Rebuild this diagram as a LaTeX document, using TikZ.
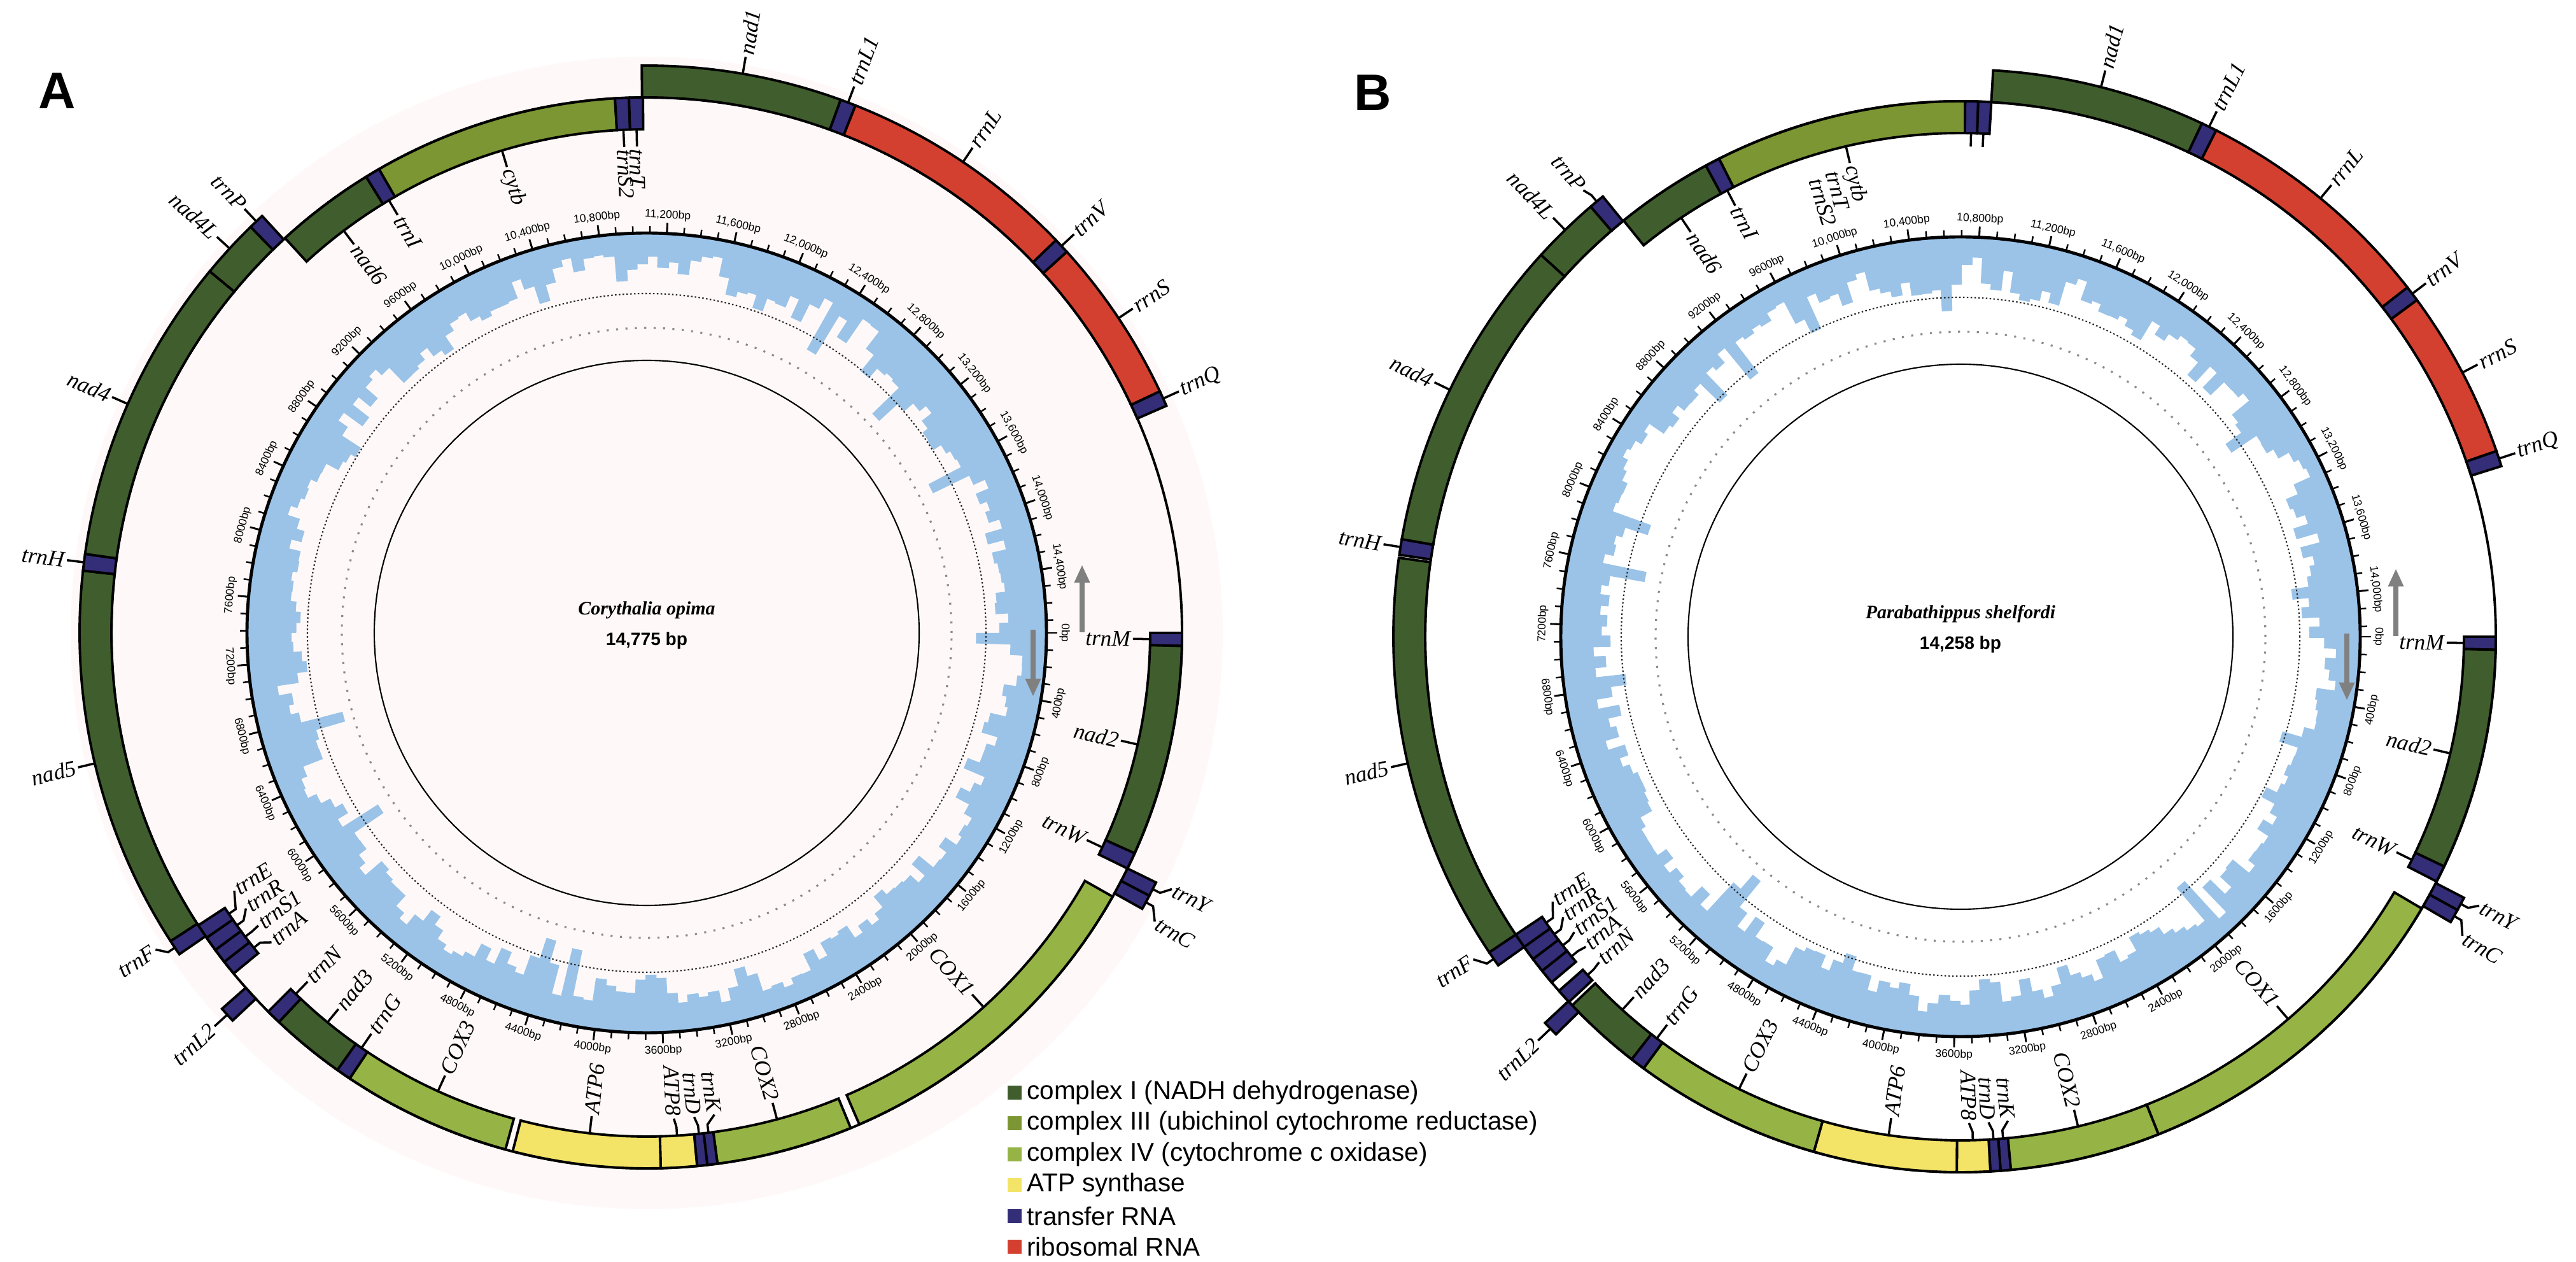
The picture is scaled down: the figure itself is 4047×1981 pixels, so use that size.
\documentclass[tikz,border=0pt]{standalone}
\usepackage{fontspec}
\setmainfont{Liberation Serif}
\setsansfont{Liberation Sans}
\usetikzlibrary{positioning,arrows.meta}

\definecolor{cplxI}{RGB}{64,94,45}
\definecolor{cplxIII}{RGB}{124,150,52}
\definecolor{cplxIV}{RGB}{150,180,70}
\definecolor{atpsyn}{RGB}{243,228,104}
\definecolor{trna}{RGB}{52,45,120}
\definecolor{rrna}{RGB}{212,64,48}
\definecolor{gcblue}{RGB}{155,195,232}
\definecolor{halo}{RGB}{254,249,248}
\definecolor{arrowgray}{RGB}{128,128,128}

\tikzset{
  genebox/.style={draw=black,line width=1.1pt},
  leader/.style={line width=1pt},
  glabel/.style={font=\fontsize{10}{12}\selectfont\itshape,inner sep=1pt},
  bplabel/.style={font=\sffamily\fontsize{5}{6}\selectfont,inner sep=0.5pt},
  legbox/.style={minimum size=0.22cm,inner sep=0pt},
  legtext/.style={font=\sffamily\fontsize{11.5}{13}\selectfont,inner sep=0pt},
  strandarrow/.style={draw=arrowgray,line width=2.3pt,-{Triangle[length=8pt,width=6.5pt]}},
}

% angles in degrees, clockwise from 3 o'clock (0 bp)
\newcommand{\genein}[3]{\filldraw[genebox,fill=#3] (-#1:791) arc[start angle=-#1,end angle=-#2,radius=791] -- (-#2:841) arc[start angle=-#2,end angle=-#1,radius=841] -- cycle;}
\newcommand{\geneout}[3]{\filldraw[genebox,fill=#3] (-#1:841) arc[start angle=-#1,end angle=-#2,radius=841] -- (-#2:891) arc[start angle=-#2,end angle=-#1,radius=891] -- cycle;}

% label of a gene: gene angle, label angle, text
\newcommand{\labout}[3]{%
  \pgfmathsetmacro{\labrot}{cos(#2)>0 ? -#2 : 180-#2}%
  \pgfmathtruncatemacro{\labside}{cos(#2)>0 ? 1 : 0}%
  \ifnum\labside=1 \def\labanc{west}\else\def\labanc{east}\fi
  \node[glabel,rotate=\labrot,anchor=\labanc] (\pfx#3) at (-#2:918) {#3};
  \draw[leader] (-#1:890) -- (-#1:904) -- (\pfx#3.\labanc);}
\newcommand{\labin}[3]{%
  \pgfmathsetmacro{\labrot}{cos(#2)>0 ? -#2 : 180-#2}%
  \pgfmathtruncatemacro{\labside}{cos(#2)>0 ? 1 : 0}%
  \ifnum\labside=1 \def\labanc{east}\else\def\labanc{west}\fi
  \node[glabel,rotate=\labrot,anchor=\labanc] (\pfx#3) at (-#2:764) {#3};
  \draw[leader] (-#1:792) -- (-#1:778) -- (\pfx#3.\labanc);}

% blue content plot: number of bars, seed
\newcommand{\gcplot}[2]{%
  \pgfmathsetseed{#2}\xdef\gcprev{50}%
  \pgfmathsetmacro{\wbar}{360/#1}%
  \foreach \i in {1,...,#1} {
    \pgfmathsetmacro{\barA}{-(\i-1)*\wbar}
    \pgfmathsetmacro{\barB}{-\i*\wbar-0.2}
    \pgfmathsetmacro{\gch}{0.4*\gcprev+0.6*(20+85*rnd)}
    \xdef\gcprev{\gch}
    \pgfmathsetmacro{\gcr}{628-\gch-(rnd>0.94)*45}
    \fill[gcblue] (\barA:628) arc[start angle=\barA,end angle=\barB,radius=628] -- (\barB:\gcr) arc[start angle=\barB,end angle=\barA,radius=\gcr] -- cycle;
  }}

\newcommand{\innerrings}{%
  \draw[line width=0.6pt,black!85,dash pattern=on 0.7pt off 1pt] (0,0) circle[radius=533];
  \draw[line width=0.9pt,black!45,dash pattern=on 0.9pt off 3.3pt] (0,0) circle[radius=479];
  \draw[line width=0.6pt] (0,0) circle[radius=428];}

% bp ruler: genome length, index of last 400 bp label
\newcommand{\bpruler}[2]{%
  \draw[line width=1.4pt] (0,0) circle[radius=628];
  \pgfmathsetmacro{\dstep}{360/(#1/100)}%
  \pgfmathtruncatemacro{\nmin}{#1/100}%
  \foreach \k in {0,...,\nmin} \draw[line width=0.7pt] (-\k*\dstep:628) -- (-\k*\dstep:639);
  \foreach \k in {0,...,#2} {
    \pgfmathsetmacro{\ang}{\k*4*\dstep}
    \pgfmathtruncatemacro{\bp}{\k*400}
    \ifnum\bp<10000 \edef\bptext{\bp bp}\else
      \pgfmathtruncatemacro{\bpk}{\bp/1000}\pgfmathtruncatemacro{\bpr}{\bp-1000*\bpk}
      \ifnum\bpr=0 \edef\bptext{\bpk,000bp}\else\edef\bptext{\bpk,\bpr bp}\fi
    \fi
    \draw[line width=0.8pt] (-\ang:628) -- (-\ang:645);
    \pgfmathtruncatemacro{\topside}{((\ang>180)||(\ang<0.01)) ? 1 : 0}
    \ifnum\topside=1 \node[bplabel,rotate=-\ang-90,anchor=south] (\pfx bp\k) at (-\ang:646) {\bptext};
    \else \node[bplabel,rotate=90-\ang,anchor=north] (\pfx bp\k) at (-\ang:646) {\bptext};\fi
  }}

\begin{document}
\begin{tikzpicture}[x=0.01cm,y=0.01cm]
\fill[white] (0,0) rectangle (4047,1981);
\useasboundingbox (0,0) rectangle (4047,1981);

% ---------------- A
\begin{scope}[shift={(1016,987)}]
\def\pfx{A}
\fill[halo] (0,0) circle[radius=905];
\gcplot{220}{11}
\innerrings
\bpruler{14775}{36}
\draw[line width=1.1pt] (0,0) circle[radius=841];
\genein{0}{1.4}{trna}        % trnM
\genein{1.4}{24.3}{cplxI}    % nad2
\genein{24.3}{26.1}{trna}    % trnW
\geneout{26.1}{27.6}{trna}   % trnY
\geneout{27.6}{29.1}{trna}   % trnC
\genein{29.5}{66.6}{cplxIV}  % COX1
\genein{67.6}{82.4}{cplxIV}  % COX2
\genein{82.4}{83.5}{trna}    % trnK
\genein{83.5}{84.6}{trna}    % trnD
\genein{84.6}{88.5}{atpsyn}  % ATP8
\genein{88.5}{104.5}{atpsyn} % ATP6
\genein{105.3}{123.7}{cplxIV}% COX3
\genein{123.7}{125.3}{trna}  % trnG
\genein{125.3}{133.4}{cplxI} % nad3
\genein{133.4}{135.0}{trna}  % trnN
\geneout{136.9}{138.5}{trna} % trnL2
\genein{140.5}{142.1}{trna}  % trnA
\genein{142.1}{143.7}{trna}  % trnS1
\genein{143.7}{145.3}{trna}  % trnR
\genein{145.3}{146.9}{trna}  % trnE
\geneout{145.5}{147.1}{trna} % trnF
\geneout{147.1}{186.3}{cplxI}% nad5
\geneout{186.3}{188.0}{trna} % trnH
\geneout{188.0}{219.6}{cplxI}% nad4
\geneout{219.6}{225.7}{cplxI}% nad4L
\geneout{225.7}{227.3}{trna} % trnP
\genein{227.5}{238.4}{cplxI} % nad6
\genein{238.4}{240.0}{trna}  % trnI
\genein{240.0}{266.6}{cplxIII}% cytb
\genein{266.6}{268.1}{trna}  % trnS2
\genein{268.1}{269.6}{trna}  % trnT
\geneout{269.5}{290.0}{cplxI}% nad1
\geneout{290.0}{291.6}{trna} % trnL1
\geneout{291.6}{316.2}{rrna} % rrnL
\geneout{316.2}{317.8}{trna} % trnV
\geneout{317.8}{334.8}{rrna} % rrnS
\geneout{334.8}{336.4}{trna} % trnQ
\labin{0.7}{0.7}{trnM}
\labin{12.8}{12.8}{nad2}
\labin{25.2}{25.2}{trnW}
\labout{26.85}{26.0}{trnY}
\labout{28.35}{29.6}{trnC}
\labin{48.0}{48.0}{COX1}
\labin{75.0}{75.0}{COX2}
\labin{82.95}{82.0}{trnK}
\labin{84.05}{84.4}{trnD}
\labin{86.55}{86.8}{ATP8}
\labin{96.5}{96.5}{ATP6}
\labin{114.5}{114.5}{COX3}
\labin{124.5}{124.5}{trnG}
\labin{129.35}{129.35}{nad3}
\labin{134.2}{134.2}{trnN}
\labout{137.7}{137.7}{trnL2}
\labin{141.3}{140.5}{trnA}
\labin{142.9}{143.0}{trnS1}
\labin{144.5}{145.5}{trnR}
\labin{146.1}{148.0}{trnE}
\labout{146.3}{147.2}{trnF}
\labout{166.7}{166.7}{nad5}
\labout{187.15}{187.15}{trnH}
\labout{203.8}{203.8}{nad4}
\labout{222.65}{222.65}{nad4L}
\labout{226.5}{226.5}{trnP}
\labin{233.0}{233.0}{nad6}
\labin{239.2}{239.2}{trnI}
\labin{253.3}{253.3}{cytb}
\labin{267.35}{267.35}{trnS2}
\labin{268.85}{268.85}{trnT}
\labout{279.75}{279.75}{nad1}
\labout{290.8}{290.8}{trnL1}
\labout{303.9}{303.9}{rrnL}
\labout{317.0}{317.0}{trnV}
\labout{326.3}{326.3}{rrnS}
\labout{335.6}{335.6}{trnQ}
\coordinate (Auptail) at (684,1);
\coordinate (Auphead) at (684,107);
\coordinate (Adntail) at (607,5);
\coordinate (Adnhead) at (607,-100);
\draw[strandarrow] (Auptail) -- (Auphead);
\draw[strandarrow] (Adntail) -- (Adnhead);
\node[font=\fontsize{8.5}{10}\selectfont\bfseries\itshape,inner sep=0pt] (Aname) at (0,36) {Corythalia opima};
\node[font=\sffamily\bfseries\fontsize{8}{10}\selectfont,inner sep=0pt,below=0.2cm of Aname] (Asize) {14,775 bp};
\end{scope}

% ---------------- B
\begin{scope}[shift={(3080,981)}]
\def\pfx{B}
\gcplot{220}{5}
\innerrings
\bpruler{14258}{35}
\draw[line width=1.1pt] (0,0) circle[radius=841];
\genein{0}{1.4}{trna}        % trnM
\genein{1.4}{25.4}{cplxI}    % nad2
\genein{25.4}{27.2}{trna}    % trnW
\geneout{27.4}{28.8}{trna}   % trnY
\geneout{28.8}{30.2}{trna}   % trnC
\genein{30.5}{68.3}{cplxIV}  % COX1
\genein{68.3}{84.6}{cplxIV}  % COX2
\genein{84.6}{85.7}{trna}    % trnK
\genein{85.7}{86.8}{trna}    % trnD
\genein{86.8}{90.4}{atpsyn}  % ATP8
\genein{90.4}{105.9}{atpsyn} % ATP6
\genein{105.9}{126.3}{cplxIV}% COX3
\genein{126.3}{127.9}{trna}  % trnG
\genein{127.9}{136.5}{cplxI} % nad3
\genein{137.0}{138.6}{trna}  % trnN
\geneout{135.5}{137.1}{trna} % trnL2
\genein{139.8}{141.4}{trna}  % trnA
\genein{141.4}{143.0}{trna}  % trnS1
\genein{143.0}{144.6}{trna}  % trnR
\genein{144.6}{146.2}{trna}  % trnE
\geneout{144.6}{146.2}{trna} % trnF
\geneout{146.2}{188.0}{cplxI}% nad5
\geneout{188.3}{189.9}{trna} % trnH
\geneout{189.9}{222.3}{cplxI}% nad4
\geneout{222.3}{229.3}{cplxI}% nad4L
\geneout{229.3}{230.9}{trna} % trnP
\genein{231.0}{241.6}{cplxI} % nad6
\genein{241.6}{243.2}{trna}  % trnI
\genein{243.2}{270.5}{cplxIII}% cytb
\genein{270.5}{271.9}{trna}  % trnS2
\genein{271.9}{273.3}{trna}  % trnT
\geneout{273.3}{295.2}{cplxI}% nad1
\geneout{295.2}{296.8}{trna} % trnL1
\geneout{296.8}{322.0}{rrna} % rrnL
\geneout{322.0}{323.6}{trna} % trnV
\geneout{323.6}{340.9}{rrna} % rrnS
\geneout{340.9}{342.5}{trna} % trnQ
\labin{0.7}{0.7}{trnM}
\labin{13.4}{13.4}{nad2}
\labin{26.3}{26.3}{trnW}
\labout{28.1}{27.4}{trnY}
\labout{29.5}{30.8}{trnC}
\labin{49.4}{49.4}{COX1}
\labin{76.5}{76.5}{COX2}
\labin{85.15}{84.4}{trnK}
\labin{86.25}{86.7}{trnD}
\labin{88.6}{89.0}{ATP8}
\labin{98.2}{98.2}{ATP6}
\labin{116.1}{116.1}{COX3}
\labin{127.1}{127.1}{trnG}
\labin{132.2}{132.2}{nad3}
\labin{137.8}{138.0}{trnN}
\labout{136.3}{136.3}{trnL2}
\labin{140.6}{140.4}{trnA}
\labin{142.2}{142.6}{trnS1}
\labin{143.8}{144.8}{trnR}
\labin{145.4}{147.0}{trnE}
\labout{145.4}{146.5}{trnF}
\labout{167.1}{167.1}{nad5}
\labout{189.1}{189.1}{trnH}
\labout{205.8}{205.8}{nad4}
\labout{225.8}{225.8}{nad4L}
\labout{230.1}{229.8}{trnP}
\labin{236.3}{236.3}{nad6}
\labin{242.4}{242.4}{trnI}
\labin{256.85}{256.85}{cytb}
\draw[leader] (-271.2:792) -- (-271.2:770);
\draw[leader] (-272.6:792) -- (-272.6:770);
\node[glabel,rotate=-74.6,anchor=west] (BtrnT) at (-254.6:762) {trnT};
\node[glabel,rotate=-72.4,anchor=west] (BtrnS2) at (-252.4:758) {trnS2};
\labout{284.35}{284.35}{nad1}
\labout{296.0}{296.0}{trnL1}
\labout{309.4}{309.4}{rrnL}
\labout{322.8}{322.8}{trnV}
\labout{332.25}{332.25}{rrnS}
\labout{341.7}{341.7}{trnQ}
\coordinate (Buptail) at (684,1);
\coordinate (Buphead) at (684,107);
\coordinate (Bdntail) at (607,5);
\coordinate (Bdnhead) at (607,-100);
\draw[strandarrow] (Buptail) -- (Buphead);
\draw[strandarrow] (Bdntail) -- (Bdnhead);
\node[font=\fontsize{8.5}{10}\selectfont\bfseries\itshape,inner sep=0pt] (Bname) at (0,36) {Parabathippus shelfordi};
\node[font=\sffamily\bfseries\fontsize{8}{10}\selectfont,inner sep=0pt,below=0.2cm of Bname] (Bsize) {14,258 bp};
\end{scope}

% panel letters
\node[font=\sffamily\bfseries\fontsize{23}{26}\selectfont] (panelA) at (90,1838) {A};
\node[font=\sffamily\bfseries\fontsize{23}{26}\selectfont] (panelB) at (2157,1835) {B};

% legend
\node[legbox,fill=cplxI] (legI) at (1594,265) {};
\node[legtext,right=0.07cm of legI] (legIt) {complex I (NADH dehydrogenase)};
\node[legbox,fill=cplxIII,below=0.25cm of legI] (legIII) {};
\node[legtext,right=0.07cm of legIII] (legIIIt) {complex III (ubichinol cytochrome reductase)};
\node[legbox,fill=cplxIV,below=0.25cm of legIII] (legIV) {};
\node[legtext,right=0.07cm of legIV] (legIVt) {complex IV (cytochrome c oxidase)};
\node[legbox,fill=atpsyn,below=0.25cm of legIV] (legATP) {};
\node[legtext,right=0.07cm of legATP] (legATPt) {ATP synthase};
\node[legbox,fill=trna,below=0.25cm of legATP] (legtRNA) {};
\node[legtext,right=0.07cm of legtRNA] (legtRNAt) {transfer RNA};
\node[legbox,fill=rrna,below=0.25cm of legtRNA] (legrRNA) {};
\node[legtext,right=0.07cm of legrRNA] (legrRNAt) {ribosomal RNA};
\end{tikzpicture}
\end{document}
